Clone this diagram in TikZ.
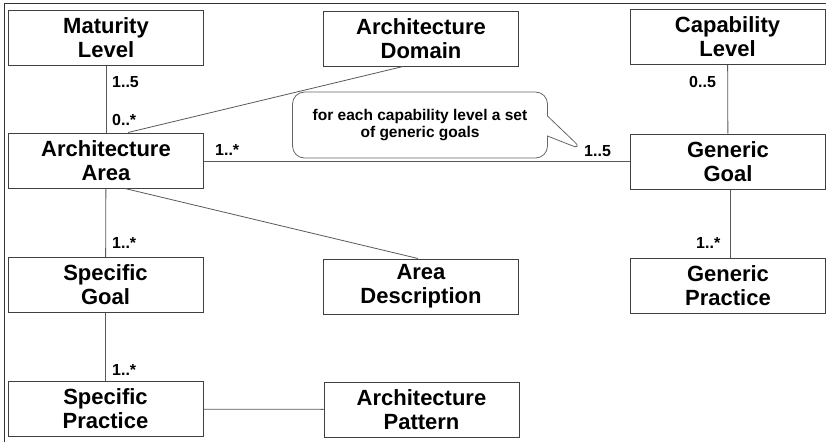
\documentclass[tikz,border=0pt]{standalone}
\usepackage{fontspec}
\setmainfont{Liberation Sans}
\usetikzlibrary{shapes.callouts}

\begin{document}
\begin{tikzpicture}[x=1pt,y=-1pt,
            box/.style={draw=black!75,line width=1pt,minimum width=195pt,minimum height=55pt,
                align=center,inner sep=0pt,font=\fontsize{22}{24}\selectfont\bfseries},
            mult/.style={anchor=west,inner sep=0pt,font=\fontsize{16}{18}\selectfont\bfseries},
            assoc/.style={draw=black!65,line width=0.8pt},
            note/.style={rectangle callout,draw=black!60,line width=0.8pt,rounded corners=12pt,
                minimum width=255pt,minimum height=66pt,align=center,callout pointer width=20pt,
                font=\fontsize{15.5}{17}\selectfont\bfseries}
        ]
        \useasboundingbox (0,0) rectangle (826,442);
        \draw[black!80,line width=1pt] (4,442) -- (4,3) -- (826,3);
        % classes
        \node[box] (matlevel) at (106,38) {Maturity\\Level};
        \node[box] (archdomain) at (421,38.5) {Architecture\\Domain};
        \node[box] (caplevel) at (727.5,37) {Capability\\Level};
        \node[box] (archarea) at (106,160.5) {Architecture\\Area};
        \node[box] (genericgoal) at (728,161.5) {Generic\\Goal};
        \node[box] (specgoal) at (105.5,285) {Specific\\Goal};
        \node[box] (areadesc) at (421,286.5) {Area\\Description};
        \node[box] (genpractice) at (728,285.5) {Generic\\Practice};
        \node[box] (specpractice) at (105.5,409) {Specific\\Practice};
        \node[box] (archpattern) at (421.5,409.5) {Architecture\\Pattern};
        \node[note,callout absolute pointer={(583,150)}] (goalnote) at (420,125)
            {for each capability level a set\\of generic goals};
        % associations
        \draw[assoc] (matlevel) -- (archarea);
        \draw[assoc] ([xshift=-18pt]archdomain.south) -- ([xshift=22pt]archarea.north);
        \draw[assoc] (archarea.east |- genericgoal.west) -- (genericgoal.west);
        \draw[assoc] (caplevel) -- (genericgoal);
        \draw[assoc] ([xshift=2pt]genericgoal.south) -- ([xshift=2pt]genpractice.north);
        \draw[assoc] (archarea) -- (specgoal);
        \draw[assoc] ([xshift=19pt]archarea.south) -- ([xshift=-3pt]areadesc.north);
        \draw[assoc] (specgoal) -- (specpractice);
        \draw[assoc] (specpractice) -- (archpattern);
        % multiplicities
        \node[mult] (mmat) at (112,82) {1..5};
        \node[mult] (marea) at (112,120) {0..*};
        \node[mult] (mareagoal) at (215,150) {1..*};
        \node[mult] (mgoalarea) at (584,151) {1..5};
        \node[mult] (mcap) at (689,82) {0..5};
        \node[mult] (mgenpr) at (696,243) {1..*};
        \node[mult] (mspecgoal) at (112,243) {1..*};
        \node[mult] (mspecpr) at (112,370) {1..*};
    \end{tikzpicture}
\end{document}
